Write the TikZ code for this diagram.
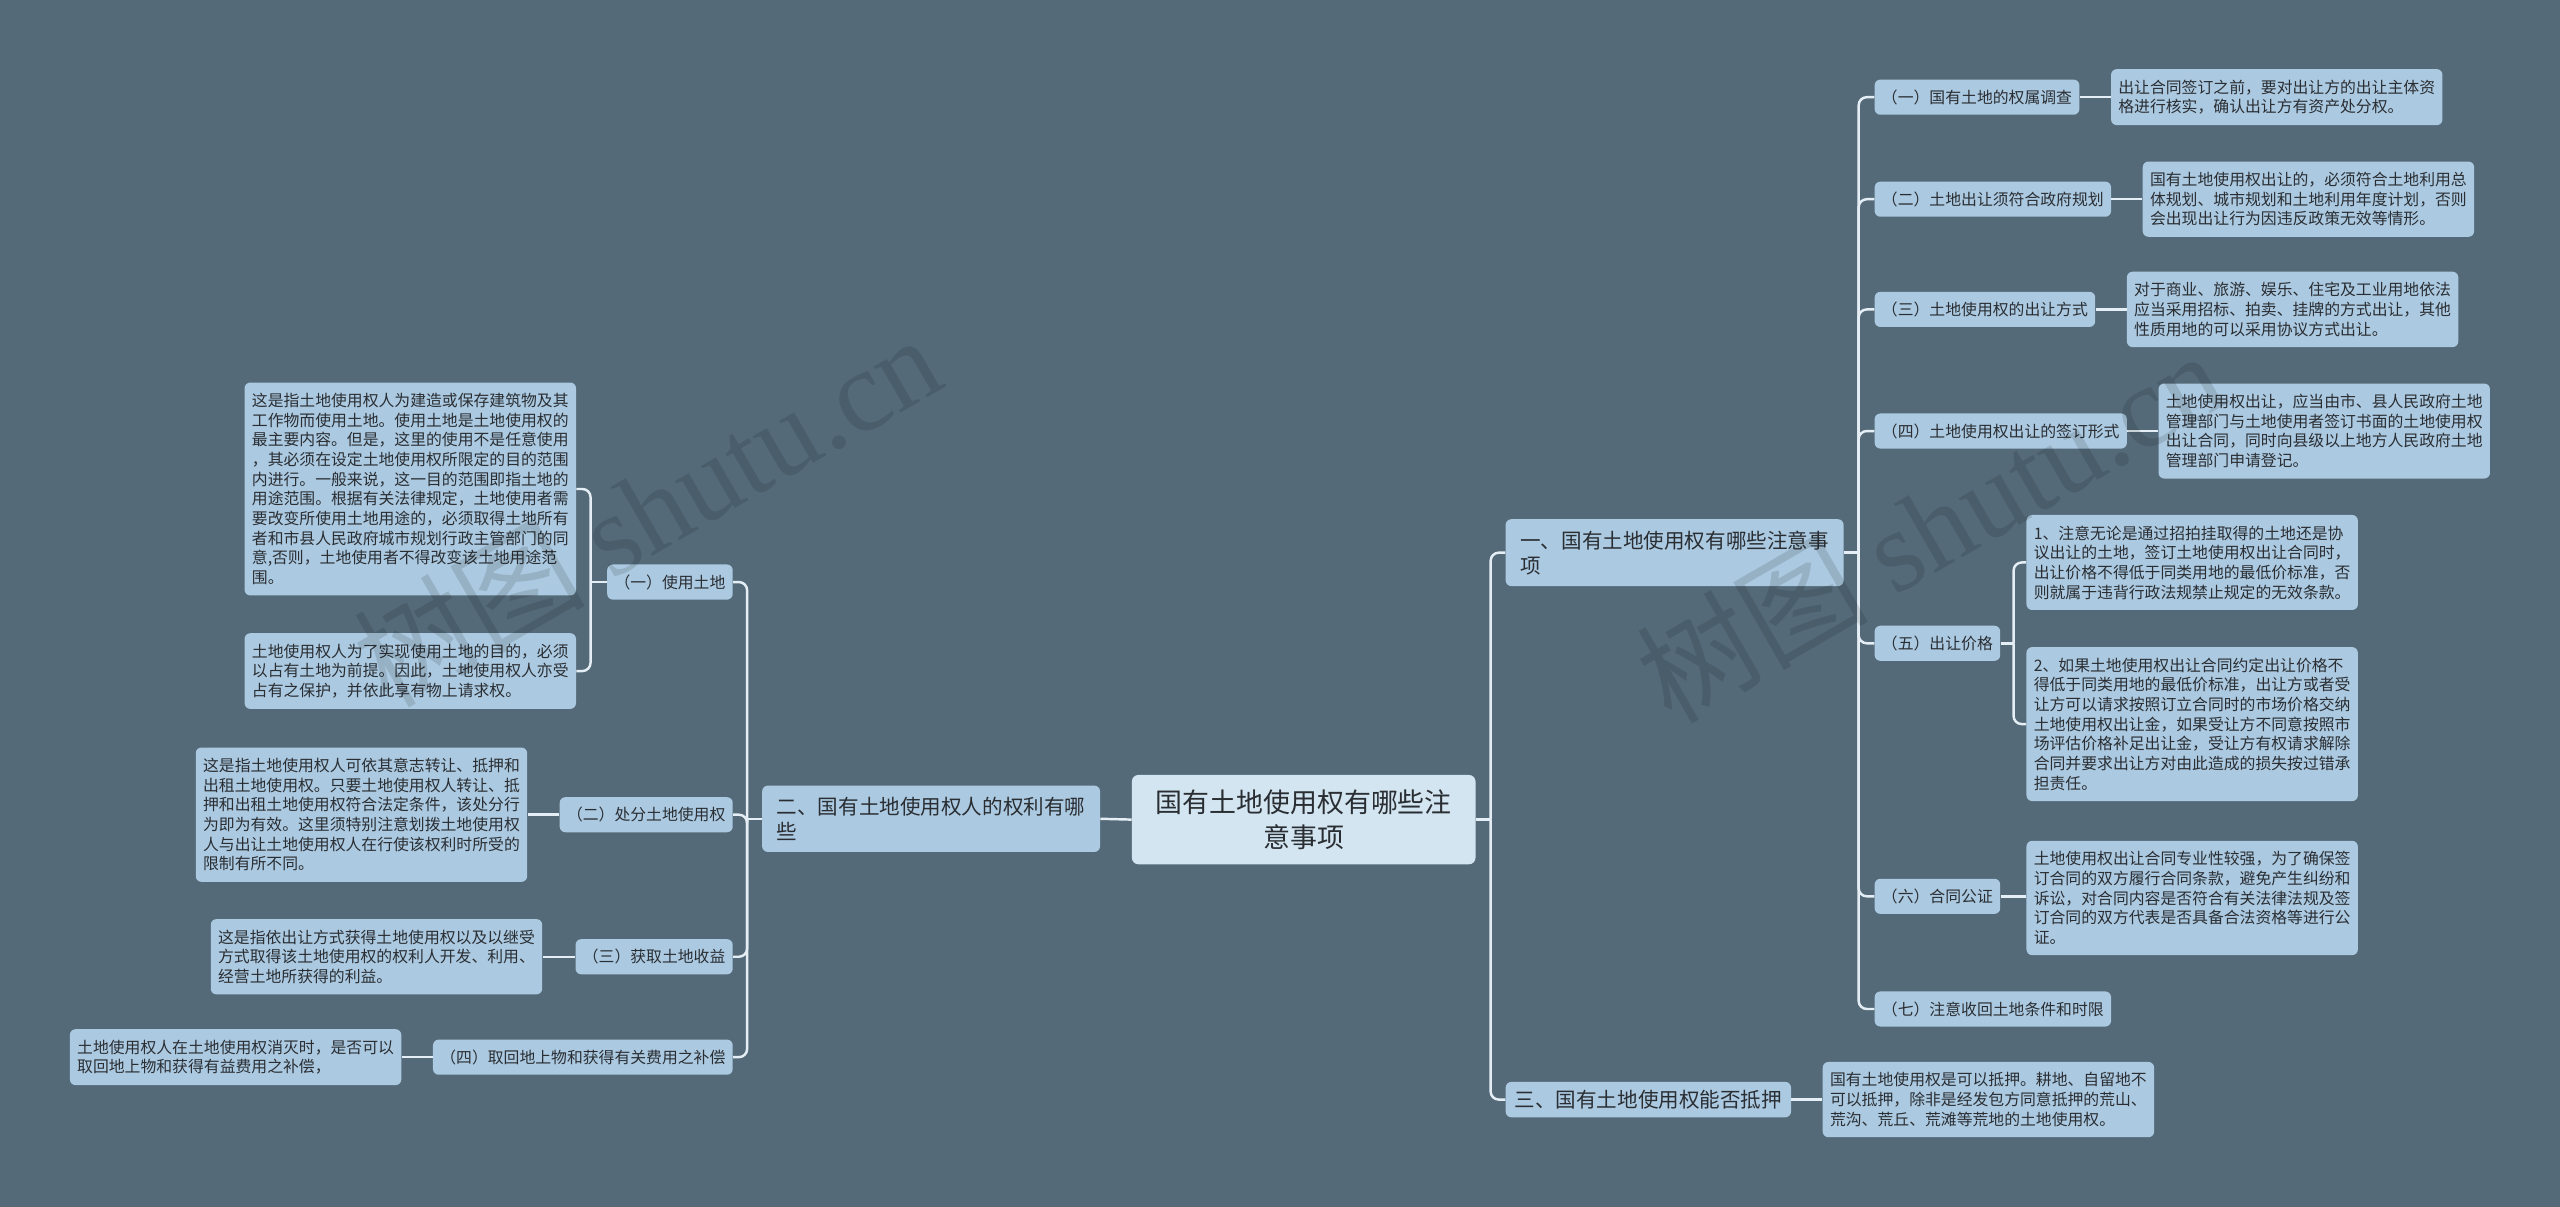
\documentclass[tikz,border=0pt]{standalone}
\usepackage{fontspec}
\setmainfont{Noto Sans CJK SC}
\newfontfamily\wmserif{Liberation Serif}
\definecolor{bgc}{HTML}{546A79}
\definecolor{leafc}{HTML}{ABC9E0}
\definecolor{rootc}{HTML}{D2E5F1}
\definecolor{linec}{HTML}{E4EEF4}
\definecolor{txtc}{HTML}{2A2E33}
\begin{document}
\begin{tikzpicture}[x=1pt,y=-1pt,
  boxbase/.style={fill=leafc, rounded corners=3.5pt, text=txtc},
  leaf/.style={boxbase, align=left, font=\fontsize{9.7}{12.05}\selectfont, inner xsep=4.5pt, inner ysep=6.5pt},
  sub/.style={boxbase, font=\fontsize{9.7}{12}\selectfont, inner xsep=4.5pt, inner ysep=0pt, minimum height=21.5pt},
  branch/.style={boxbase, align=left, font=\fontsize{12.6}{15.3}\selectfont, inner xsep=9pt, inner ysep=7pt},
  rootbox/.style={fill=rootc, rounded corners=4pt, text=txtc, align=center, font=\fontsize{16.5}{21.4}\selectfont, inner xsep=14.5pt, inner ysep=9pt},
  conn/.style={draw=linec, line width=1.5pt, rounded corners=5pt},
  wm/.style={text=black, opacity=0.12, rotate=30, font=\fontsize{71}{75}\selectfont}
]
\fill[bgc] (0,0) rectangle (1568,739);
\useasboundingbox (0,0) rectangle (1568,739);

% root
\node[rootbox] (root) at (798.5,502) {国有土地使用权有哪些注\\意事项};

% branches
\node[branch, anchor=west] (b1) at (922,338.5) {一、国有土地使用权有哪些注意事\\项};
\node[branch, anchor=east] (b2) at (674,501.5) {二、国有土地使用权人的权利有哪\\些};
\node[branch, anchor=west, inner xsep=5.5pt, inner ysep=5pt] (b3) at (922,673.5) {三、国有土地使用权能否抵押};

% right sub-items
\node[sub, anchor=west] (s1) at (1148,59.5) {（一）国有土地的权属调查};
\node[sub, anchor=west] (s2) at (1148,122) {（二）土地出让须符合政府规划};
\node[sub, anchor=west] (s3) at (1148,189.5) {（三）土地使用权的出让方式};
\node[sub, anchor=west] (s4) at (1148,264) {（四）土地使用权出让的签订形式};
\node[sub, anchor=west] (s5) at (1148,394) {（五）出让价格};
\node[sub, anchor=west] (s6) at (1148,549) {（六）合同公证};
\node[sub, anchor=west] (s7) at (1148,618) {（七）注意收回土地条件和时限};

% right leaves
\node[leaf, anchor=west] (r1) at ([xshift=19pt]s1.east) {出让合同签订之前，要对出让方的出让主体资\\格进行核实，确认出让方有资产处分权。};
\node[leaf, anchor=west] (r2) at ([xshift=19pt]s2.east) {国有土地使用权出让的，必须符合土地利用总\\体规划、城市规划和土地利用年度计划，否则\\会出现出让行为因违反政策无效等情形。};
\node[leaf, anchor=west] (r3) at ([xshift=19pt]s3.east) {对于商业、旅游、娱乐、住宅及工业用地依法\\应当采用招标、拍卖、挂牌的方式出让，其他\\性质用地的可以采用协议方式出让。};
\node[leaf, anchor=west] (r4) at ([xshift=19pt]s4.east) {土地使用权出让，应当由市、县人民政府土地\\管理部门与土地使用者签订书面的土地使用权\\出让合同，同时向县级以上地方人民政府土地\\管理部门申请登记。};
\node[leaf, anchor=west] (r5a) at (1241,344.5) {1、注意无论是通过招拍挂取得的土地还是协\\议出让的土地，签订土地使用权出让合同时，\\出让价格不得低于同类用地的最低价标准，否\\则就属于违背行政法规禁止规定的无效条款。};
\node[leaf, anchor=west] (r5b) at (1241,443.5) {2、如果土地使用权出让合同约定出让价格不\\得低于同类用地的最低价标准，出让方或者受\\让方可以请求按照订立合同时的市场价格交纳\\土地使用权出让金，如果受让方不同意按照市\\场评估价格补足出让金，受让方有权请求解除\\合同并要求出让方对由此造成的损失按过错承\\担责任。};
\node[leaf, anchor=west] (r6) at (1241,550) {土地使用权出让合同专业性较强，为了确保签\\订合同的双方履行合同条款，避免产生纠纷和\\诉讼，对合同内容是否符合有关法律法规及签\\订合同的双方代表是否具备合法资格等进行公\\证。};
\node[leaf, anchor=west] (r8) at ([xshift=19pt]b3.east) {国有土地使用权是可以抵押。耕地、自留地不\\可以抵押，除非是经发包方同意抵押的荒山、\\荒沟、荒丘、荒滩等荒地的土地使用权。};

% left sub-items
\node[sub, anchor=east] (t1) at (449,356.5) {（一）使用土地};
\node[sub, anchor=east] (t2) at (449,499) {（二）处分土地使用权};
\node[sub, anchor=east] (t3) at (449,586) {（三）获取土地收益};
\node[sub, anchor=east] (t4) at (449,647.5) {（四）取回地上物和获得有关费用之补偿};

% left leaves
\node[leaf, anchor=east] (l1a) at (353,299.5) {这是指土地使用权人为建造或保存建筑物及其\\工作物而使用土地。使用土地是土地使用权的\\最主要内容。但是，这里的使用不是任意使用\\，其必须在设定土地使用权所限定的目的范围\\内进行。一般来说，这一目的范围即指土地的\\用途范围。根据有关法律规定，土地使用者需\\要改变所使用土地用途的，必须取得土地所有\\者和市县人民政府城市规划行政主管部门的同\\意,否则，土地使用者不得改变该土地用途范\\围。};
\node[leaf, anchor=east] (l1b) at (353,411) {土地使用权人为了实现使用土地的目的，必须\\以占有土地为前提。因此，土地使用权人亦受\\占有之保护，并依此享有物上请求权。};
\node[leaf, anchor=east] (l2) at ([xshift=-19.5pt]t2.west) {这是指土地使用权人可依其意志转让、抵押和\\出租土地使用权。只要土地使用权人转让、抵\\押和出租土地使用权符合法定条件，该处分行\\为即为有效。这里须特别注意划拨土地使用权\\人与出让土地使用权人在行使该权利时所受的\\限制有所不同。};
\node[leaf, anchor=east] (l3) at ([xshift=-20pt]t3.west) {这是指依出让方式获得土地使用权以及以继受\\方式取得该土地使用权的权利人开发、利用、\\经营土地所获得的利益。};
\node[leaf, anchor=east] (l4) at ([xshift=-19pt]t4.west) {土地使用权人在土地使用权消灭时，是否可以\\取回地上物和获得有益费用之补偿，};

% junctions
\coordinate (jR) at (913,502);
\coordinate (j1) at ([xshift=9pt]b1.east);
\coordinate (j5) at ([xshift=8pt]s5.east);
\coordinate (j2) at ([xshift=-9pt]b2.west);
\coordinate (jL1) at ([xshift=-10pt]t1.west);

% connectors: root
\draw[conn] (root.west) -- (b2.east);
\draw[conn] (root.east) -- (jR);
\draw[conn] (jR) |- (b1.west);
\draw[conn] (jR) |- (b3.west);
% branch 1
\draw[conn] (b1.east) -- (j1);
\foreach \s in {s1,s2,s3,s4,s5,s6,s7} {\draw[conn] (j1) |- (\s.west);}
\draw[conn] (s1.east) -- (r1.west);
\draw[conn] (s2.east) -- (s2.east -| r2.west);
\draw[conn] (s3.east) -- (s3.east -| r3.west);
\draw[conn] (s4.east) -- (s4.east -| r4.west);
\draw[conn] (s5.east) -- (j5);
\draw[conn] (j5) |- (r5a.west);
\draw[conn] (j5) |- (r5b.west);
\draw[conn] (s6.east) -- (s6.east -| r6.west);
% branch 3
\draw[conn] (b3.east) -- (r8.west);
% branch 2
\draw[conn] (b2.west) -- (j2);
\foreach \t in {t1,t2,t3,t4} {\draw[conn] (j2) |- (\t.east);}
\draw[conn] (t1.west) -- (jL1);
\draw[conn] (jL1) |- (l1a.east);
\draw[conn] (jL1) |- (l1b.east);
\draw[conn] (t2.west) -- (t2.west -| l2.east);
\draw[conn] (t3.west) -- (t3.west -| l3.east);
\draw[conn] (t4.west) -- (t4.west -| l4.east);

% watermarks (drawn over the boxes, as in the reference)
\node[wm] (wmL) at (396,312) {树图 {\wmserif shutu.cn}};
\node[wm] (wmR) at (1182,322) {树图 {\wmserif shutu.cn}};
\end{tikzpicture}
\end{document}
